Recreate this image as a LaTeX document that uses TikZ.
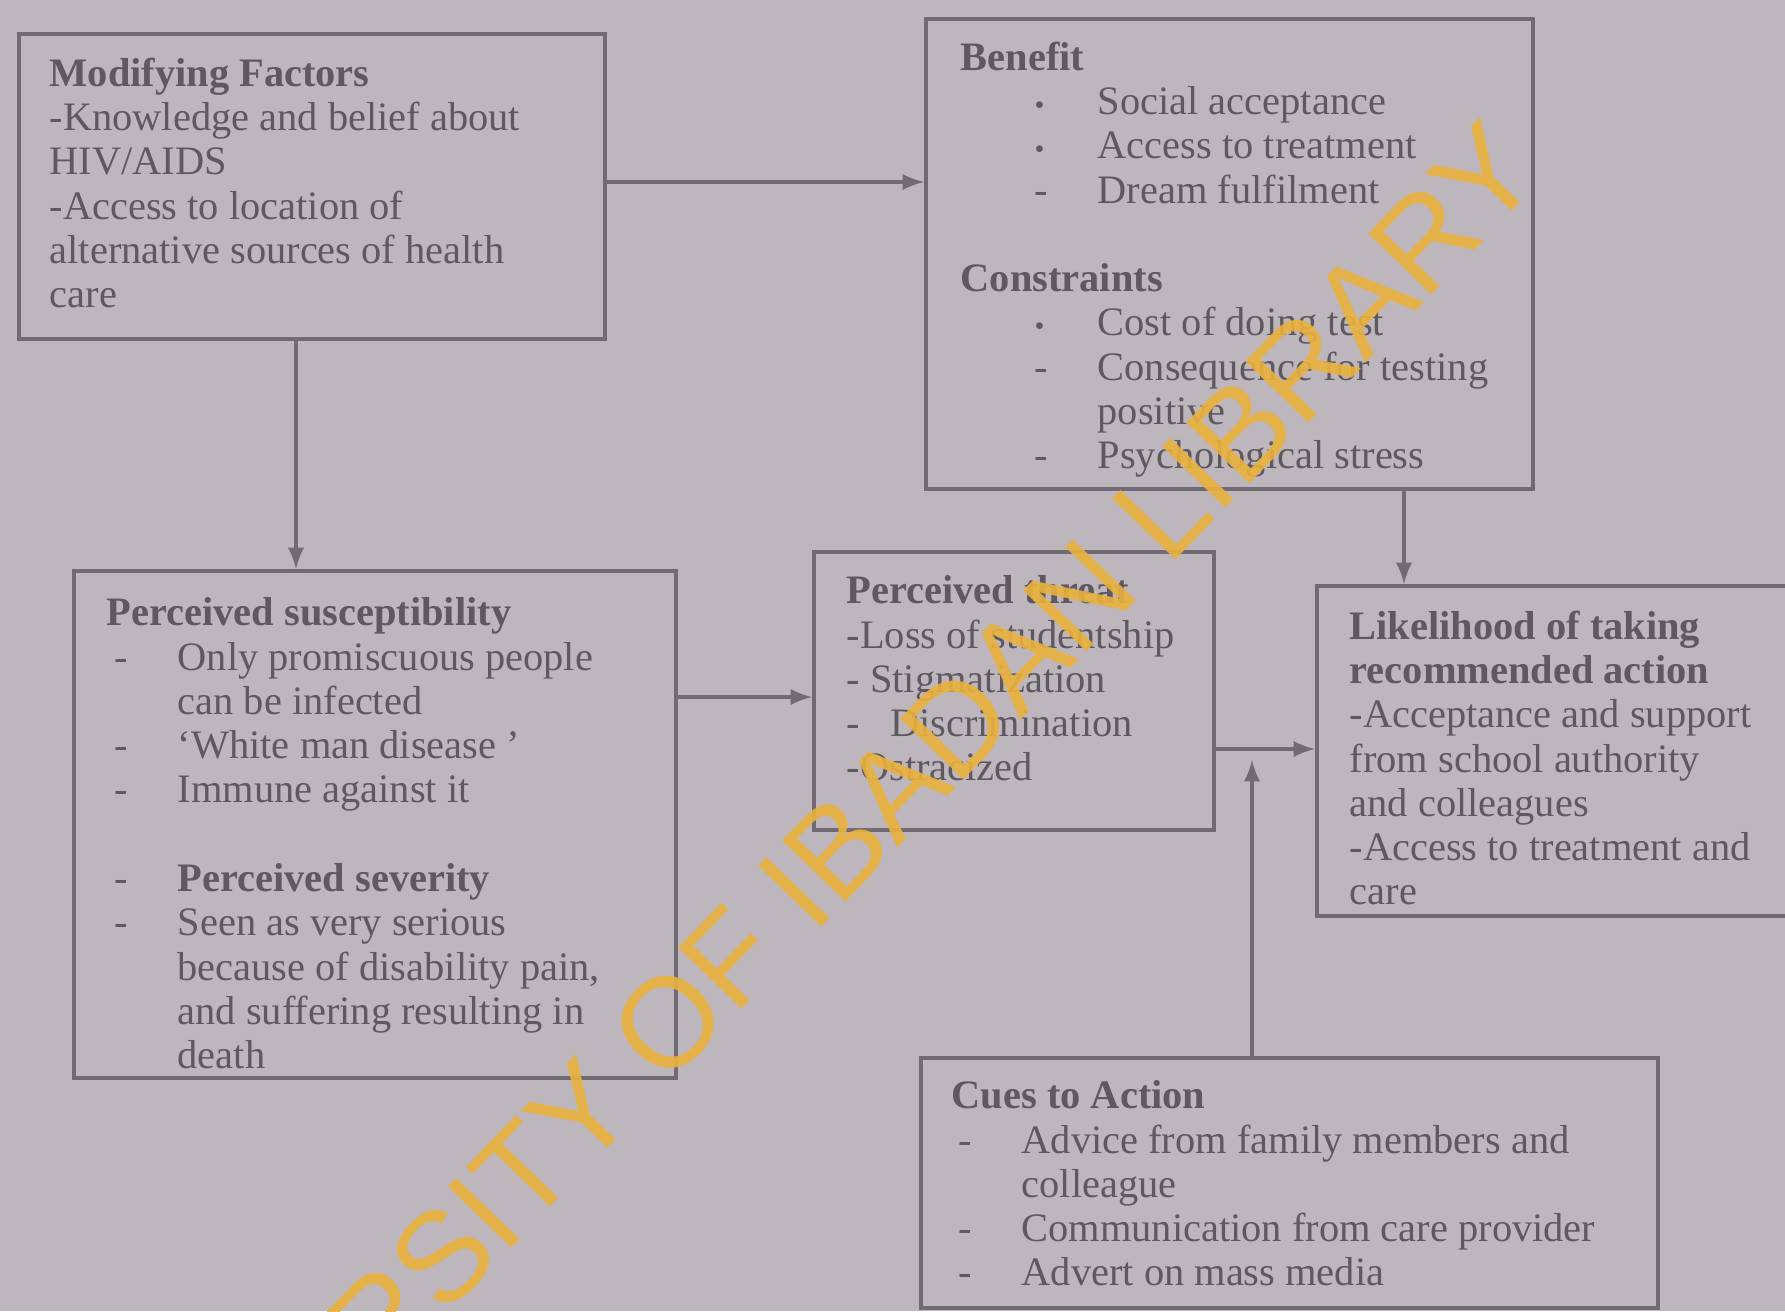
\documentclass[tikz,border=0pt]{standalone}
\usepackage{fontspec}
\setmainfont{Liberation Serif}
\newfontfamily\stampfont{Liberation Sans}
\definecolor{paper}{RGB}{189,182,188}
\definecolor{ink}{RGB}{94,88,95}
\definecolor{rule}{RGB}{112,106,114}
\definecolor{stamp}{RGB}{234,178,62}
\newcommand{\itm}[2]{\hspace*{#1}\makebox[0.63cm][l]{#2}}
\newcommand{\dotmark}{{\footnotesize •}}

\begin{document}
\begin{tikzpicture}[>=latex,
	box/.style={draw=rule, line width=1.1pt, anchor=north west, inner sep=0pt},
	txt/.style={anchor=north west, inner sep=0pt, align=left, text=ink, font=\fontsize{11.5}{12.6}\selectfont},
	link/.style={->, draw=rule, line width=1.1pt}]
	\useasboundingbox (0,0) rectangle (17.85,-13.11);
	\fill[paper] (0,0) rectangle (17.85,-13.11);

	\node[box, minimum width=5.86cm, minimum height=3.05cm] (mf) at (0.17,-0.32) {};
	\node[box, minimum width=6.07cm, minimum height=4.70cm] (benefit) at (9.24,-0.17) {};
	\node[box, minimum width=6.02cm, minimum height=5.07cm] (susc) at (0.72,-5.69) {};
	\node[box, minimum width=4.00cm, minimum height=2.78cm] (threat) at (8.12,-5.50) {};
	\node[box, minimum width=4.85cm, minimum height=3.30cm] (likely) at (13.15,-5.84) {};
	\node[box, minimum width=7.37cm, minimum height=2.50cm] (cues) at (9.19,-10.56) {};

	\node[txt] (mftext) at (0.49,-0.57) {\textbf{Modifying Factors}\\
		-Knowledge and belief about\\
		HIV/AIDS\\
		-Access to location of\\
		alternative sources of health\\
		care};
	\node[txt] (benefittext) at (9.60,-0.41) {\textbf{Benefit}\\
		\itm{0.74cm}{\dotmark}Social acceptance\\
		\itm{0.74cm}{\dotmark}Access to treatment\\
		\itm{0.74cm}{-}Dream fulfilment\\[12.6pt]
		\textbf{Constraints}\\
		\itm{0.74cm}{\dotmark}Cost of doing test\\
		\itm{0.74cm}{-}Consequence for testing\\
		\hspace*{1.37cm}positive\\
		\itm{0.74cm}{-}Psychological stress};
	\node[txt] (susctext) at (1.06,-5.97) {\textbf{Perceived susceptibility}\\
		\itm{0.08cm}{-}Only promiscuous people\\
		\hspace*{0.71cm}can be infected\\
		\itm{0.08cm}{-}`White man disease '\\
		\itm{0.08cm}{-}Immune against it\\[12.6pt]
		\itm{0.08cm}{-}\textbf{Perceived severity}\\
		\itm{0.08cm}{-}Seen as very serious\\
		\hspace*{0.71cm}because of disability pain,\\
		\hspace*{0.71cm}and suffering resulting in\\
		\hspace*{0.71cm}death};
	\node[txt] (threattext) at (8.46,-5.75) {\textbf{Perceived threat}\\
		-Loss of studentship\\
		- Stigmatization\\
		-\hspace{0.3cm}Discrimination\\
		-Ostracized};
	\node[txt] (likelytext) at (13.49,-6.10) {\textbf{Likelihood of taking}\\
		\textbf{recommended action}\\
		-Acceptance and support\\
		from school authority\\
		and colleagues\\
		-Access to treatment and\\
		care};
	\node[txt] (cuestext) at (9.51,-10.80) {\textbf{Cues to Action}\\
		\itm{0.07cm}{-}Advice from family members and\\
		\hspace*{0.70cm}colleague\\
		\itm{0.07cm}{-}Communication from care provider\\
		\itm{0.07cm}{-}Advert on mass media};

	\coordinate (join) at (12.52,-7.60);
	\draw[link] (mf.east |- 0,-1.82) -- (benefit.west |- 0,-1.82);
	\draw[link] (mf.south -| 2.96,0) -- (susc.north -| 2.96,0);
	\draw[link] (susc.east |- 0,-6.97) -- (threat.west |- 0,-6.97);
	\draw[link] (threat.east |- 0,-7.49) -- (likely.west |- 0,-7.49);
	\draw[link] (cues.north -| join) -- (join);
	\draw[link] (benefit.south -| 14.04,0) -- (likely.north -| 14.04,0);

	\node[rotate=46, text=stamp, opacity=0.9, font=\stampfont\fontsize{36.3}{36.3}\selectfont] (stamptext) at (7.96,-8.90) {UNIVERSITY OF IBADAN LIBRARY};
\end{tikzpicture}
\end{document}
